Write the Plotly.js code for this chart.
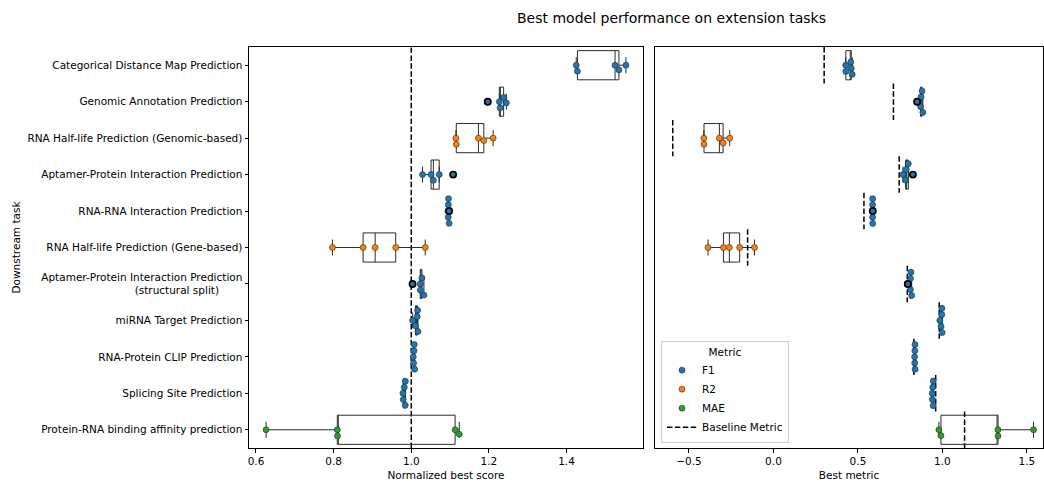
<!DOCTYPE html>
<html><head><meta charset="utf-8">
<script src="https://cdn.plot.ly/plotly-3.0.1.min.js"></script>
<style>body{margin:0;background:#fff}#chart{width:1044px;height:483px}</style>
</head><body><div id="chart"></div>
<script>
// ---------------- data ----------------
const tasks = [
  "Categorical Distance Map Prediction",
  "Genomic Annotation Prediction",
  "RNA Half-life Prediction (Genomic-based)",
  "Aptamer-Protein Interaction Prediction",
  "RNA-RNA Interaction Prediction",
  "RNA Half-life Prediction (Gene-based)",
  "Aptamer-Protein Interaction Prediction<br>(structural split)\u00A0\u00A0\u00A0\u00A0\u00A0\u00A0\u00A0",
  "miRNA Target Prediction",
  "RNA-Protein CLIP Prediction",
  "Splicing Site Prediction",
  "Protein-RNA binding affinity prediction"
];
const taskMetric = ["F1","F1","R2","F1","F1","R2","F1","F1","F1","F1","MAE"];
const baselineMetric = [0.300, 0.710, -0.596, 0.744, 0.5355, -0.153, 0.792, 0.981, 0.831, 0.960, 1.131];
const normalizedBest = [
  [1.425, 1.428, 1.525, 1.535, 1.553],
  [1.197, 1.227, 1.229, 1.238, 1.245],
  [1.115, 1.116, 1.173, 1.187, 1.211],
  [1.029, 1.051, 1.057, 1.072, 1.108],
  [1.0945, 1.0952, 1.0955, 1.0960, 1.0975],
  [0.797, 0.876, 0.907, 0.960, 1.036],
  [1.0033, 1.0232, 1.0235, 1.0275, 1.0327],
  [1.0036, 1.011, 1.0154, 1.0163, 1.0172],
  [1.0051, 1.006, 1.007, 1.0077, 1.0086],
  [0.9786, 0.9794, 0.982, 0.9846, 0.9848],
  [0.626, 0.8095, 0.810, 1.113, 1.1236]
];
const bestMetric = [
  [0.4275, 0.4284, 0.4575, 0.4605, 0.4659],
  [0.850, 0.871, 0.873, 0.879, 0.884],
  [-0.412, -0.411, -0.320, -0.298, -0.259],
  [0.766, 0.782, 0.786, 0.798, 0.825],
  [0.5861, 0.5865, 0.5866, 0.5869, 0.5877],
  [-0.387, -0.296, -0.261, -0.200, -0.112],
  [0.7946, 0.8104, 0.8106, 0.8138, 0.8179],
  [0.9845, 0.9918, 0.9961, 0.9970, 0.9979],
  [0.8352, 0.8360, 0.8368, 0.8374, 0.8381],
  [0.9395, 0.9402, 0.9427, 0.9452, 0.9454],
  [0.979, 0.991, 1.328, 1.329, 1.539]
];
const metricNames = ["F1", "R2", "MAE"];
const metricColors = {F1: "#1f77b4", R2: "#ff7f0e", MAE: "#2ca02c"};
const leftTicks = [0.6, 0.8, 1.0, 1.2, 1.4];
const rightTicks = [-0.5, 0.0, 0.5, 1.0, 1.5];

// ---------------- geometry ----------------
const W = 1044, H = 483;
const M = {l: 249, r: 1, t: 47, b: 35};
const plotW = W - M.l - M.r, plotH = H - M.t - M.b;
const dom1 = [0, 394 / plotW], dom2 = [406 / plotW, 1];
const xr1 = [0.582, 1.597], xr2 = [-0.701, 1.595];
const nRows = tasks.length;
const yr = [nRows - 0.5, -0.5];
const pxPerRow = plotH / nRows;
const k1 = (dom1[1] - dom1[0]) * plotW / (xr1[1] - xr1[0]);
const k2 = (dom2[1] - dom2[0]) * plotW / (xr2[1] - xr2[0]);
const DIAM = 5.9;
const FS = 10.5;

function beeswarm(vals, k, d) {
  const idx = vals.map((v, i) => i).sort((a, b) => vals[a] - vals[b]);
  const placed = [];
  const off = new Array(vals.length).fill(0);
  idx.forEach(i => {
    const p = vals[i] * k;
    const neigh = placed.filter(q => Math.abs(q.p - p) < d);
    let cands = [0];
    let leftFirst = true;
    neigh.forEach(q => {
      const dx = Math.sqrt(Math.max(d * d - (p - q.p) ** 2, 0)) * 1.05;
      const a = q.o + dx, b = q.o - dx;
      if (leftFirst) cands.push(a, b); else cands.push(b, a);
      leftFirst = !leftFirst;
    });
    cands = cands.map((c, j) => ({c, j}))
      .sort((u, v) => (Math.abs(u.c) - Math.abs(v.c)) || (u.j - v.j)).map(u => u.c);
    let chosen = cands[0];
    for (const c of cands) {
      if (neigh.every(q => (q.p - p) ** 2 + (q.o - c) ** 2 >= d * d * 0.999)) { chosen = c; break; }
    }
    placed.push({p, o: chosen});
    off[i] = chosen;
  });
  return off;
}
function quant(s, q) {
  const pos = (s.length - 1) * q, lo = Math.floor(pos), hi = Math.ceil(pos);
  return s[lo] + (s[hi] - s[lo]) * (pos - lo);
}
function fliers(vals) {
  const s = vals.slice().sort((a, b) => a - b);
  const q1 = quant(s, 0.25), q3 = quant(s, 0.75), iqr = q3 - q1;
  return vals.filter(v => v < q1 - 1.5 * iqr || v > q3 + 1.5 * iqr);
}

const traces = [];
const panels = [
  {data: normalizedBest, xa: "x", ya: "y", k: k1, legend: true},
  {data: bestMetric, xa: "x2", ya: "y2", k: k2, legend: false}
];
// boxes
panels.forEach(P => {
  P.data.forEach((vals, i) => {
    traces.push({
      type: "box", orientation: "h", x: vals, y: vals.map(() => i),
      xaxis: P.xa, yaxis: P.ya, width: 0.8, quartilemethod: "inclusive",
      boxpoints: "outliers", marker: {opacity: 0}, whiskerwidth: 0.55,
      fillcolor: "rgba(0,0,0,0)", line: {color: "#2b2b2b", width: 1},
      hoverinfo: "skip", showlegend: false
    });
  });
});
// baseline segments (right panel)
const bx = [], by = [];
baselineMetric.forEach((b, i) => { bx.push(b, b, null); by.push(i - 0.5, i + 0.5, null); });
traces.push({
  type: "scatter", mode: "lines", x: bx, y: by, xaxis: "x2", yaxis: "y2",
  line: {color: "black", width: 1.5, dash: "5.5px,2.4px"},
  name: "Baseline Metric", legendrank: 4, showlegend: true, hoverinfo: "skip"
});
// swarm points
panels.forEach(P => {
  metricNames.forEach((m, mi) => {
    const xs = [], ys = [];
    P.data.forEach((vals, i) => {
      if (taskMetric[i] !== m) return;
      const off = beeswarm(vals, P.k, DIAM);
      vals.forEach((v, j) => { xs.push(v); ys.push(i + off[j] / pxPerRow); });
    });
    traces.push({
      type: "scatter", mode: "markers", x: xs, y: ys, xaxis: P.xa, yaxis: P.ya,
      name: m, legendrank: mi + 1, showlegend: P.legend,
      marker: {size: 6, color: metricColors[m], line: {color: "#2a2a2a", width: 0.6}},
      hoverinfo: "skip"
    });
  });
});
// fliers on top
panels.forEach(P => {
  const xs = [], ys = [], cs = [];
  P.data.forEach((vals, i) => {
    fliers(vals).forEach(v => { xs.push(v); ys.push(i); cs.push(metricColors[taskMetric[i]]); });
  });
  traces.push({
    type: "scatter", mode: "markers", x: xs, y: ys, xaxis: P.xa, yaxis: P.ya,
    marker: {size: 6.2, color: cs, line: {color: "black", width: 1.7}},
    showlegend: false, hoverinfo: "skip"
  });
});

const axisCommon = {
  showline: true, mirror: true, linecolor: "black", linewidth: 1,
  ticks: "outside", ticklen: 3.5, tickcolor: "black", tickwidth: 1,
  showgrid: false, zeroline: false, tickfont: {size: FS, color: "black"}
};
const layout = {
  width: W, height: H, margin: M, paper_bgcolor: "white", plot_bgcolor: "white",
  font: {family: "DejaVu Sans", size: FS, color: "black"},
  boxmode: "overlay", hovermode: false,
  title: {text: "Best model performance on extension tasks", font: {size: 14, color: "black"},
    xref: "container", x: 671.5 / W, xanchor: "center", yref: "container", y: 1 - 18 / H, yanchor: "middle"},
  xaxis: Object.assign({}, axisCommon, {domain: dom1, range: xr1, tickvals: leftTicks, tickformat: ".1f",
    anchor: "y", title: {text: "Normalized best score", font: {size: FS}, standoff: 5}}),
  xaxis2: Object.assign({}, axisCommon, {domain: dom2, range: xr2, tickvals: rightTicks, tickformat: ".1f",
    anchor: "y2", title: {text: "Best metric", font: {size: FS}, standoff: 5}}),
  yaxis: Object.assign({}, axisCommon, {range: yr, tickvals: tasks.map((t, i) => i), ticktext: tasks, anchor: "x"}),
  yaxis2: Object.assign({}, axisCommon, {range: yr, anchor: "x2", ticks: "", showticklabels: false}),
  annotations: [{text: "Downstream task", textangle: -90, xref: "paper", yref: "paper",
    x: (15 - M.l) / plotW, y: 0.5, xanchor: "center", yanchor: "middle", showarrow: false,
    font: {size: FS, color: "black"}}],
  shapes: [{type: "line", xref: "x", yref: "paper", x0: 1.0, x1: 1.0, y0: 0, y1: 1, layer: "below",
    line: {color: "black", width: 1.5, dash: "5.5px,2.4px"}}],
  legend: {x: (661 - M.l) / plotW, y: (448 - 443) / plotH, xanchor: "left", yanchor: "bottom",
    bgcolor: "white", bordercolor: "#cccccc", borderwidth: 1, font: {size: FS},
    title: {text: "Metric", side: "top center", font: {size: FS}}, traceorder: "normal"}
};
Plotly.newPlot("chart", traces, layout, {staticPlot: true, displayModeBar: false});
</script>
</body></html>
